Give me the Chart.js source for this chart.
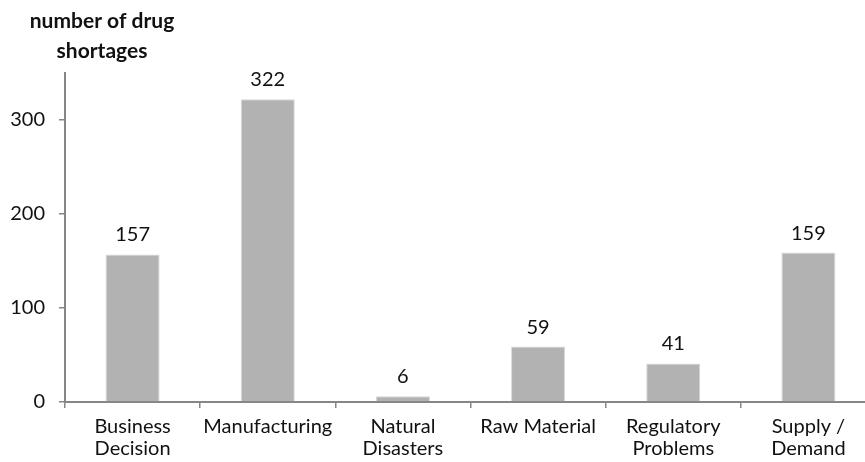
<!DOCTYPE html>
<html>
<head>
<meta charset="utf-8">
<script src="https://cdn.jsdelivr.net/npm/chart.js"></script>
<style>
  html, body { margin: 0; padding: 0; background: #fff; overflow: hidden; }
  #wrap { position: relative; width: 880px; height: 462px; }
</style>
</head>
<body>
<div id="wrap"><canvas id="myChart"></canvas></div>
<script>
// chart data
const categories = [['Business', 'Decision'], 'Manufacturing', ['Natural', 'Disasters'], 'Raw Material', ['Regulatory', 'Problems'], ['Supply /', 'Demand']];
const shortages = [157, 322, 6, 59, 41, 159];
const yTicks = [0, 100, 200, 300];
const axisTitle = ['number of drug', 'shortages'];

const FONT = 'Lato, "Open Sans", sans-serif';

// draws the value above each bar and the axis title top-left
const labelsPlugin = {
  id: 'labelsPlugin',
  afterDatasetsDraw(chart) {
    const ctx = chart.ctx;
    const meta = chart.getDatasetMeta(0);
    ctx.save();
    ctx.fillStyle = '#111';
    ctx.font = '20px ' + FONT;
    ctx.textAlign = 'center';
    ctx.textBaseline = 'alphabetic';
    meta.data.forEach((bar, i) => {
      ctx.fillText(String(shortages[i]), bar.x, bar.y - 13);
    });
    ctx.font = 'bold 21px ' + FONT;
    ctx.fillText(axisTitle[0], 102, 28);
    ctx.fillText(axisTitle[1], 102, 58);
    ctx.restore();
  }
};

const ctx = document.getElementById('myChart').getContext('2d');
new Chart(ctx, {
  type: 'bar',
  data: {
    labels: categories,
    datasets: [{
      data: shortages,
      backgroundColor: '#b2b2b2',
      borderColor: '#d9d9d9',
      borderWidth: 1,
      barPercentage: 0.4,
      categoryPercentage: 1
    }]
  },
  options: {
    responsive: true,
    maintainAspectRatio: false,
    animation: false,
    layout: { padding: { top: 73, right: 4, left: 0, bottom: 0 } },
    plugins: { legend: { display: false }, tooltip: { enabled: false } },
    scales: {
      x: {
        grid: { display: true, drawOnChartArea: false, offset: true, tickLength: 6, color: '#868686', lineWidth: 1.5 },
        border: { color: '#868686', width: 2 },
        ticks: { color: '#111', font: { family: FONT, size: 20, lineHeight: 1.1 }, maxRotation: 0, autoSkip: false, padding: 8 },
        afterFit(scale) { scale.height = 60; }
      },
      y: {
        min: 0,
        max: 350,
        afterBuildTicks(scale) { scale.ticks = yTicks.map(v => ({ value: v })); },
        grid: { display: true, drawOnChartArea: false, tickLength: 6, color: '#868686', lineWidth: 1.5 },
        border: { color: '#868686', width: 2 },
        ticks: { color: '#111', font: { family: FONT, size: 20 }, padding: 14 },
        afterFit(scale) { scale.width = 65; }
      }
    }
  },
  plugins: [labelsPlugin]
});
</script>
</body>
</html>
